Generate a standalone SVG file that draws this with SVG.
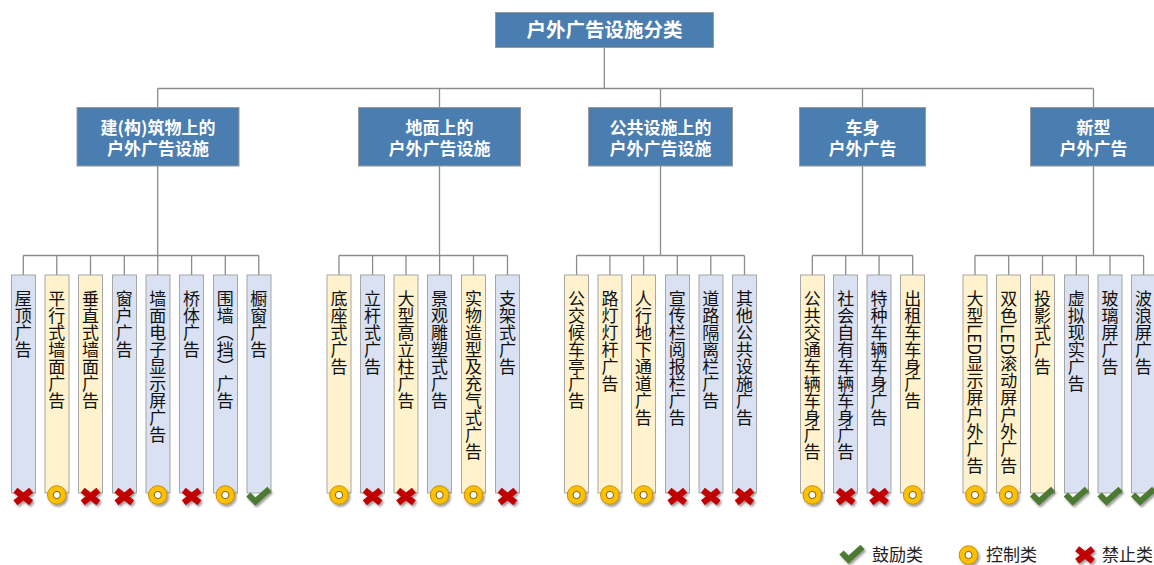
<svg xmlns="http://www.w3.org/2000/svg" xmlns:xlink="http://www.w3.org/1999/xlink" width="1154" height="565" viewBox="0 0 1154 565">
<style>
.cat{fill:#4A7DB0;stroke:#9A9A9A;stroke-width:1}
.ct{font-family:"Noto Sans CJK SC","Liberation Sans",sans-serif;font-weight:bold;font-size:17px;fill:#fff;text-anchor:middle}
.tt{font-size:19.5px}
.lb{fill:#D9E1F2;stroke:#A6A6A6;stroke-width:1}
.ly{fill:#FFF2CC;stroke:#A6A6A6;stroke-width:1}
.lt{font-family:"Noto Sans CJK SC","Liberation Sans",sans-serif;font-size:17px;fill:#111;writing-mode:vertical-rl;text-orientation:mixed;text-spacing-trim:space-all}
.ln{fill:none;stroke:#8C8C8C;stroke-width:1.3}
.lg{font-family:"Noto Sans CJK SC","Liberation Sans",sans-serif;font-size:17px;fill:#222}
</style>
<defs>
<filter id="sh" x="-50%" y="-50%" width="200%" height="200%">
<feDropShadow dx="1.5" dy="2" stdDeviation="1" flood-color="#000" flood-opacity="0.4"/>
</filter>
<g id="ix" filter="url(#sh)">
<rect x="-10" y="-3.2" width="20" height="6.4" fill="#C00000" transform="rotate(38)"/>
<rect x="-10" y="-3.2" width="20" height="6.4" fill="#C00000" transform="rotate(-38)"/>
</g>
<g id="io" filter="url(#sh)">
<circle r="9.3" fill="#FFC000" stroke="#C28F00" stroke-width="1"/>
<circle r="3.6" fill="#fff" stroke="#7A6000" stroke-width="1"/>
</g>
<g id="iv" filter="url(#sh)">
<path d="M-10.5,-1.5 L-3.5,5.5 L10.5,-7" fill="none" stroke="#4E7A30" stroke-width="6"/>
</g>
</defs>
<rect width="1154" height="565" fill="#fff"/>

<g id="connectors">
<path class="ln" d="M604.3,47.3V88.5M157.7,88.5H1093.5M157.7,88.5V107.3M439.5,88.5V107.3M660.5,88.5V107.3M862.5,88.5V107.3M1093.5,88.5V107.3"/>
<path class="ln" d="M157.7,166V255.5M23.3,255.5H258.8M23.3,255.5V275M56.8,255.5V275M90.5,255.5V275M124.3,255.5V275M157.8,255.5V275M191.6,255.5V275M225.3,255.5V275M258.8,255.5V275"/>
<path class="ln" d="M439.5,166V255.5M339,255.5H507.5M339,255.5V275M372.6,255.5V275M406,255.5V275M439.6,255.5V275M473.5,255.5V275M507.5,255.5V275"/>
<path class="ln" d="M660.5,166V255.5M576.6,255.5H744.5M576.6,255.5V275M609.9,255.5V275M643.6,255.5V275M677.3,255.5V275M710.8,255.5V275M744.5,255.5V275"/>
<path class="ln" d="M862.5,166V255.5M812.3,255.5H912.7M812.3,255.5V275M845.7,255.5V275M879.1,255.5V275M912.7,255.5V275"/>
<path class="ln" d="M1093.5,166V255.5M975,255.5H1143.6M975,255.5V275M1008.7,255.5V275M1042.5,255.5V275M1076.3,255.5V275M1110,255.5V275M1143.6,255.5V275"/>
</g>

<g id="root">
<rect class="cat" x="495.5" y="12.5" width="218" height="35"/>
<text class="ct tt" x="604.5" y="37">户外广告设施分类</text>
</g>

<g id="cat-building">
<rect class="cat" x="77" y="107.5" width="162" height="58.5"/>
<text class="ct" x="158" y="133.5">建(构)筑物上的</text>
<text class="ct" x="158" y="154.5">户外广告设施</text>
</g>
<g id="cat-ground">
<rect class="cat" x="358.5" y="107.5" width="162" height="58.5"/>
<text class="ct" x="439.5" y="133.5">地面上的</text>
<text class="ct" x="439.5" y="154.5">户外广告设施</text>
</g>
<g id="cat-public">
<rect class="cat" x="588.5" y="107.5" width="144" height="58.5"/>
<text class="ct" x="660.5" y="133.5">公共设施上的</text>
<text class="ct" x="660.5" y="154.5">户外广告设施</text>
</g>
<g id="cat-vehicle">
<rect class="cat" x="799.5" y="107.5" width="126" height="58.5"/>
<text class="ct" x="862.5" y="133.5">车身</text>
<text class="ct" x="862.5" y="154.5">户外广告</text>
</g>
<g id="cat-new">
<rect class="cat" x="1030.5" y="107.5" width="127" height="58.5"/>
<text class="ct" x="1093.5" y="133.5">新型</text>
<text class="ct" x="1093.5" y="154.5">户外广告</text>
</g>

<!-- Group 1 -->
<g id="leaf-1-1"><rect class="lb" x="11.5" y="275" width="24" height="218"/><text class="lt" x="23.3" y="290">屋顶广告</text><use href="#ix" x="23.3" y="496.5"/></g>
<g id="leaf-1-2"><rect class="ly" x="45" y="275" width="24" height="218"/><text class="lt" x="56.8" y="290">平行式墙面广告</text><use href="#io" x="56.8" y="495"/></g>
<g id="leaf-1-3"><rect class="ly" x="78.5" y="275" width="24" height="218"/><text class="lt" x="90.5" y="290">垂直式墙面广告</text><use href="#ix" x="90.5" y="496.5"/></g>
<g id="leaf-1-4"><rect class="lb" x="112.5" y="275" width="24" height="218"/><text class="lt" x="124.3" y="290">窗户广告</text><use href="#ix" x="124.3" y="496.5"/></g>
<g id="leaf-1-5"><rect class="lb" x="146" y="275" width="24" height="218"/><text class="lt" x="157.8" y="290">墙面电子显示屏广告</text><use href="#io" x="157.8" y="495"/></g>
<g id="leaf-1-6"><rect class="lb" x="179.5" y="275" width="24" height="218"/><text class="lt" x="191.6" y="290">桥体广告</text><use href="#ix" x="191.6" y="496.5"/></g>
<g id="leaf-1-7"><rect class="lb" x="213.5" y="275" width="24" height="218"/><text class="lt" x="225.3" y="290">围墙（挡）广告</text><use href="#io" x="225.3" y="495"/></g>
<g id="leaf-1-8"><rect class="lb" x="247" y="275" width="24" height="218"/><text class="lt" x="258.8" y="290">橱窗广告</text><use href="#iv" x="258.8" y="496"/></g>

<!-- Group 2 -->
<g id="leaf-2-1"><rect class="ly" x="327" y="275" width="24" height="218"/><text class="lt" x="339" y="290">底座式广告</text><use href="#io" x="339" y="495"/></g>
<g id="leaf-2-2"><rect class="lb" x="360.5" y="275" width="24" height="218"/><text class="lt" x="372.6" y="290">立杆式广告</text><use href="#ix" x="372.6" y="496.5"/></g>
<g id="leaf-2-3"><rect class="ly" x="394" y="275" width="24" height="218"/><text class="lt" x="406" y="290">大型高立柱广告</text><use href="#ix" x="406" y="496.5"/></g>
<g id="leaf-2-4"><rect class="lb" x="427.5" y="275" width="24" height="218"/><text class="lt" x="439.6" y="290">景观雕塑式广告</text><use href="#io" x="439.6" y="495"/></g>
<g id="leaf-2-5"><rect class="ly" x="461.5" y="275" width="24" height="218"/><text class="lt" x="473.5" y="290">实物造型及充气式广告</text><use href="#io" x="473.5" y="495"/></g>
<g id="leaf-2-6"><rect class="lb" x="495.5" y="275" width="24" height="218"/><text class="lt" x="507.5" y="290">支架式广告</text><use href="#ix" x="507.5" y="496.5"/></g>

<!-- Group 3 -->
<g id="leaf-3-1"><rect class="ly" x="564.5" y="275" width="24" height="218"/><text class="lt" x="576.6" y="290">公交候车亭广告</text><use href="#io" x="576.6" y="495"/></g>
<g id="leaf-3-2"><rect class="ly" x="598" y="275" width="24" height="218"/><text class="lt" x="609.9" y="290">路灯灯杆广告</text><use href="#io" x="609.9" y="495"/></g>
<g id="leaf-3-3"><rect class="ly" x="631.5" y="275" width="24" height="218"/><text class="lt" x="643.6" y="290">人行地下通道广告</text><use href="#io" x="643.6" y="495"/></g>
<g id="leaf-3-4"><rect class="lb" x="665.5" y="275" width="24" height="218"/><text class="lt" x="677.3" y="290">宣传栏阅报栏广告</text><use href="#ix" x="677.3" y="496.5"/></g>
<g id="leaf-3-5"><rect class="lb" x="699" y="275" width="24" height="218"/><text class="lt" x="710.8" y="290">道路隔离栏广告</text><use href="#ix" x="710.8" y="496.5"/></g>
<g id="leaf-3-6"><rect class="lb" x="732.5" y="275" width="24" height="218"/><text class="lt" x="744.5" y="290">其他公共设施广告</text><use href="#ix" x="744.5" y="496.5"/></g>

<!-- Group 4 -->
<g id="leaf-4-1"><rect class="ly" x="800.5" y="275" width="24" height="218"/><text class="lt" x="812.3" y="290">公共交通车辆车身广告</text><use href="#io" x="812.3" y="495"/></g>
<g id="leaf-4-2"><rect class="lb" x="833.5" y="275" width="24" height="218"/><text class="lt" x="845.7" y="290">社会自有车辆车身广告</text><use href="#ix" x="845.7" y="496.5"/></g>
<g id="leaf-4-3"><rect class="lb" x="867" y="275" width="24" height="218"/><text class="lt" x="879.1" y="290">特种车辆车身广告</text><use href="#ix" x="879.1" y="496.5"/></g>
<g id="leaf-4-4"><rect class="ly" x="900.5" y="275" width="24" height="218"/><text class="lt" x="912.7" y="290">出租车车身广告</text><use href="#io" x="912.7" y="495"/></g>

<!-- Group 5 -->
<g id="leaf-5-1"><rect class="ly" x="963" y="275" width="24" height="218"/><text class="lt" x="975" y="290">大型LED显示屏户外广告</text><use href="#io" x="975" y="495"/></g>
<g id="leaf-5-2"><rect class="ly" x="996.5" y="275" width="24" height="218"/><text class="lt" x="1008.7" y="290">双色LED滚动屏户外广告</text><use href="#io" x="1008.7" y="495"/></g>
<g id="leaf-5-3"><rect class="ly" x="1030.5" y="275" width="24" height="218"/><text class="lt" x="1042.5" y="290">投影式广告</text><use href="#iv" x="1042.5" y="496"/></g>
<g id="leaf-5-4"><rect class="lb" x="1064.5" y="275" width="24" height="218"/><text class="lt" x="1076.3" y="290">虚拟现实广告</text><use href="#iv" x="1076.3" y="496"/></g>
<g id="leaf-5-5"><rect class="lb" x="1098" y="275" width="24" height="218"/><text class="lt" x="1110" y="290">玻璃屏广告</text><use href="#iv" x="1110" y="496"/></g>
<g id="leaf-5-6"><rect class="lb" x="1131.5" y="275" width="24" height="218"/><text class="lt" x="1143.6" y="290">波浪屏广告</text><use href="#iv" x="1143.6" y="496"/></g>

<g id="legend">
<use href="#iv" x="852" y="554"/>
<text class="lg" x="872" y="561">鼓励类</text>
<use href="#io" x="968.5" y="555"/>
<text class="lg" x="986" y="561">控制类</text>
<use href="#ix" x="1085" y="555"/>
<text class="lg" x="1102" y="561">禁止类</text>
</g>
</svg>
